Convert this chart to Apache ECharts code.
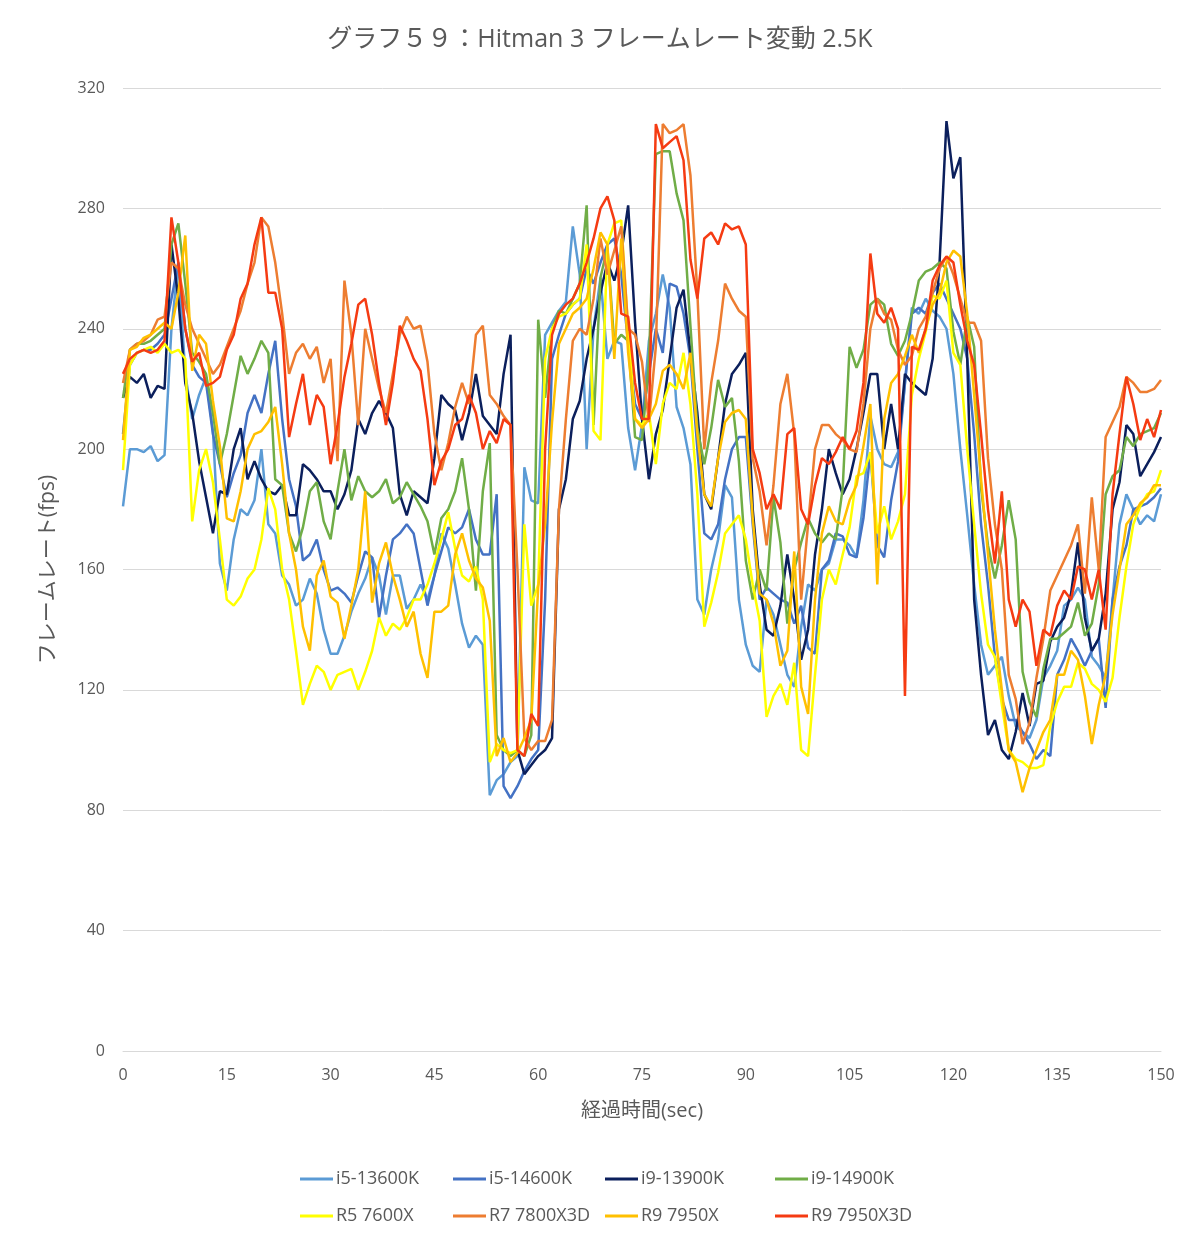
<!DOCTYPE html>
<html><head><meta charset="utf-8">
<script src="https://cdn.jsdelivr.net/npm/echarts@6/dist/echarts.min.js"></script>
<style>html,body{margin:0;padding:0;background:#fff}#c{width:1200px;height:1246px}</style>
</head><body><div id="c"></div>
<script>
const titleText = 'グラフ５９：Hitman 3 フレームレート変動 2.5K';
const xTicks = [0,15,30,45,60,75,90,105,120,135,150];
const yTicks = [0,40,80,120,160,200,240,280,320];
const seriesNames = ['i5-13600K','i5-14600K','i9-13900K','i9-14900K','R5 7600X','R7 7800X3D','R9 7950X','R9 7950X3D'];

const i5_13600K = [181,200,200,199,201,196,198,240,262,225,
210,218,224,206,162,153,170,180,178,183,
200,175,172,158,155,148,150,157,152,140,
132,132,138,146,152,157,164,158,145,158,
158,147,150,155,150,158,172,167,155,142,
134,138,135,85,90,92,96,98,194,183,
182,238,242,246,249,274,258,200,240,257,
230,236,235,207,193,208,236,245,258,247,
214,207,195,150,145,160,170,188,184,150,
135,128,126,150,145,135,125,121,141,155,
153,160,162,170,170,168,164,183,211,200,
195,194,199,222,247,245,250,246,244,240,
225,200,178,155,135,125,128,131,118,108,
106,104,110,124,128,133,148,150,154,150,
131,128,124,150,175,185,180,175,178,176,185];

const i5_14600K = [205,228,232,233,233,235,238,250,262,240,
228,224,222,205,195,184,192,198,212,218,
212,225,236,210,190,181,163,165,170,160,
153,154,152,149,158,166,164,144,158,170,
172,175,172,160,148,158,166,174,172,174,
180,170,165,165,185,88,84,88,93,97,
100,150,230,238,245,248,250,260,255,262,
268,270,258,235,215,210,225,240,232,255,
254,245,230,200,172,170,175,190,200,204,
204,175,150,154,152,150,149,142,148,134,
132,160,163,172,171,165,164,177,199,168,
164,183,196,222,245,247,245,252,255,250,
245,240,230,205,175,155,131,117,110,110,
106,102,97,100,98,125,130,137,133,128,
133,137,114,150,161,168,180,181,182,184,187];

const i9_13900K = [217,224,222,225,217,221,220,268,250,222,
212,196,184,172,186,185,200,207,190,196,
190,186,185,188,178,178,195,193,190,186,
186,180,185,193,210,205,212,216,212,207,
185,178,186,184,182,197,218,215,213,203,
212,225,211,208,205,225,238,100,92,95,
98,100,104,180,190,210,216,230,240,252,
262,256,265,281,242,210,190,205,213,230,
247,253,232,212,185,180,197,215,225,228,
232,180,155,140,138,148,165,150,130,140,
165,180,200,192,185,190,200,212,225,225,
200,215,200,225,222,220,218,230,262,309,
290,297,230,150,125,105,110,100,97,106,
119,108,122,123,136,141,144,152,169,144,
133,137,152,180,189,208,205,191,195,199,204];

const i9_14900K = [217,233,235,235,236,238,240,268,275,255,
232,229,225,212,195,205,218,231,225,230,
236,232,190,188,172,166,174,186,189,176,
170,186,200,183,191,186,184,186,190,182,
184,189,185,181,176,165,177,180,186,197,
180,153,186,202,105,100,98,100,98,105,
243,217,240,246,245,250,255,281,208,257,
267,235,238,236,204,203,229,298,299,299,
285,276,241,207,195,207,223,214,217,196,
163,150,160,153,184,169,142,160,169,177,
172,169,172,170,187,234,227,233,248,250,
248,235,231,236,245,256,259,260,262,260,
239,228,244,234,187,168,157,168,183,170,
126,116,111,127,137,137,139,141,149,138,
142,155,185,191,193,204,201,205,206,207,212];

const r5_7600X = [193,228,232,233,234,232,235,232,233,230,
176,193,200,189,170,150,148,151,157,160,
170,187,180,160,150,133,115,122,128,126,
120,125,126,127,120,126,133,144,138,142,
140,144,150,150,155,162,170,179,167,158,
156,161,150,96,102,100,99,100,175,148,
155,230,240,244,245,248,250,268,206,203,
268,275,276,240,210,208,212,195,215,222,
220,232,215,185,141,149,159,172,175,178,
170,155,143,111,118,122,115,129,100,98,
125,150,160,155,165,174,191,192,199,172,
181,170,176,185,218,230,239,251,250,256,
232,228,200,175,152,135,131,115,100,97,
96,94,94,95,108,116,121,121,129,127,
122,120,116,124,144,161,175,181,185,186,193];

const r7_7800X3D = [222,233,235,236,238,243,244,262,260,248,
240,235,230,225,228,234,240,246,255,262,
277,274,262,245,225,232,235,230,234,222,
230,196,256,238,208,240,230,220,212,225,
238,244,240,241,229,205,193,202,214,222,
215,238,241,218,215,211,208,160,104,100,
103,103,110,180,210,236,240,238,250,270,
258,266,274,240,238,229,209,234,308,305,
306,308,291,252,200,222,236,255,250,246,
244,197,186,168,188,215,225,205,150,175,
200,208,208,205,203,200,199,215,240,250,
245,243,233,228,231,240,244,252,260,264,
258,250,242,242,236,197,175,160,125,117,
102,109,124,137,153,158,163,168,175,152,
184,160,204,209,214,224,222,219,219,220,223];

const r9_7950X = [203,233,234,237,238,240,242,240,252,271,
226,238,235,216,201,177,176,186,200,205,
206,209,214,195,172,160,141,133,158,163,
151,149,137,148,160,186,149,162,169,158,
150,141,146,132,124,146,146,148,165,172,
163,157,154,143,98,104,96,99,104,110,
154,175,209,235,240,245,247,250,260,272,
268,230,270,232,210,207,210,215,226,228,
225,220,232,205,185,181,197,209,212,213,
210,177,152,150,142,128,133,166,121,112,
150,172,181,176,175,183,188,201,215,155,
210,222,225,231,238,232,240,248,252,262,
266,264,245,218,190,165,140,120,100,96,
86,94,100,106,110,125,125,133,130,118,
102,115,125,145,160,175,178,182,184,188,188];

const r9_7950X3D = [225,230,232,233,232,233,236,277,262,240,
229,232,221,222,224,233,238,250,255,268,
277,252,252,240,204,215,225,208,218,214,
195,208,224,235,248,250,238,222,208,222,
241,236,230,226,210,188,196,200,208,210,
218,212,200,206,202,210,208,100,98,112,
108,200,238,245,248,250,255,262,270,280,
284,276,245,244,222,210,210,308,300,302,
304,296,263,250,270,272,268,275,273,274,
268,200,192,180,185,180,205,207,180,175,
188,197,195,199,204,200,206,222,265,245,
242,247,240,118,234,233,240,256,261,264,
262,248,236,228,205,180,162,186,150,141,
150,146,128,140,138,148,153,150,161,160,
150,160,140,185,205,224,215,203,210,204,213];

const seriesValues = [i5_13600K,i5_14600K,i9_13900K,i9_14900K,r5_7600X,r7_7800X3D,r9_7950X,r9_7950X3D];
const colors = ['#5B9BD5','#4472C4','#0B1F5C','#70AD47','#FFFF00','#ED7D31','#FFC000','#F53B12'];

const FONT = '"Open Sans", "Noto Sans CJK JP", sans-serif';
const chart = echarts.init(document.getElementById('c'), null, {renderer:'canvas'});

const series = seriesNames.map((name, k) => ({
  name: name,
  type: 'line',
  data: seriesValues[k].map((v, i) => [i, v]),
  showSymbol: false,
  symbol: 'none',
  lineStyle: {width: 2.5, color: colors[k]},
  itemStyle: {color: colors[k]},
  z: 2 + k,
  animation: false
}));

const legendPos = [[295,1165],[448,1165],[600,1165],[770,1165],[295,1202],[448,1202],[600,1202],[770,1202]];
const legends = seriesNames.map((name, k) => ({
  data: [name],
  left: legendPos[k][0],
  top: legendPos[k][1],
  icon: 'rect',
  itemWidth: 33,
  itemHeight: 3,
  itemGap: 4,
  selectedMode: false,
  textStyle: {color: '#595959', fontSize: 18, fontFamily: FONT, padding: [0,0,0,-2]}
}));

chart.setOption({
  backgroundColor: '#ffffff',
  animation: false,
  title: {
    text: titleText, left: 'center', top: 22,
    textStyle: {color: '#595959', fontSize: 25, fontWeight: 'normal', fontFamily: FONT}
  },
  legend: legends,
  grid: {left: 123, right: 39, top: 88, bottom: 195, containLabel: false},
  xAxis: {
    type: 'value', min: 0, max: 150, interval: 15,
    name: '経過時間(sec)', nameLocation: 'middle', nameGap: 50,
    nameTextStyle: {color: '#595959', fontSize: 20, fontFamily: FONT},
    axisLine: {show: true, lineStyle: {color: '#d9d9d9', width: 1}},
    axisTick: {show: false},
    axisLabel: {color: '#595959', fontSize: 16, fontFamily: FONT, margin: 16,
      formatter: v => xTicks.indexOf(v) >= 0 ? String(v) : ''},
    splitLine: {show: false}
  },
  yAxis: {
    type: 'value', min: 0, max: 320, interval: 40,
    name: 'フレームレート(fps)', nameLocation: 'middle', nameGap: 64,
    nameTextStyle: {color: '#595959', fontSize: 21, fontFamily: FONT},
    axisLine: {show: false}, axisTick: {show: false},
    axisLabel: {color: '#595959', fontSize: 16, fontFamily: FONT, margin: 18,
      formatter: v => yTicks.indexOf(v) >= 0 ? String(v) : ''},
    splitLine: {show: true, lineStyle: {color: '#d9d9d9', width: 1}}
  },
  series: series
});
</script>
</body></html>
